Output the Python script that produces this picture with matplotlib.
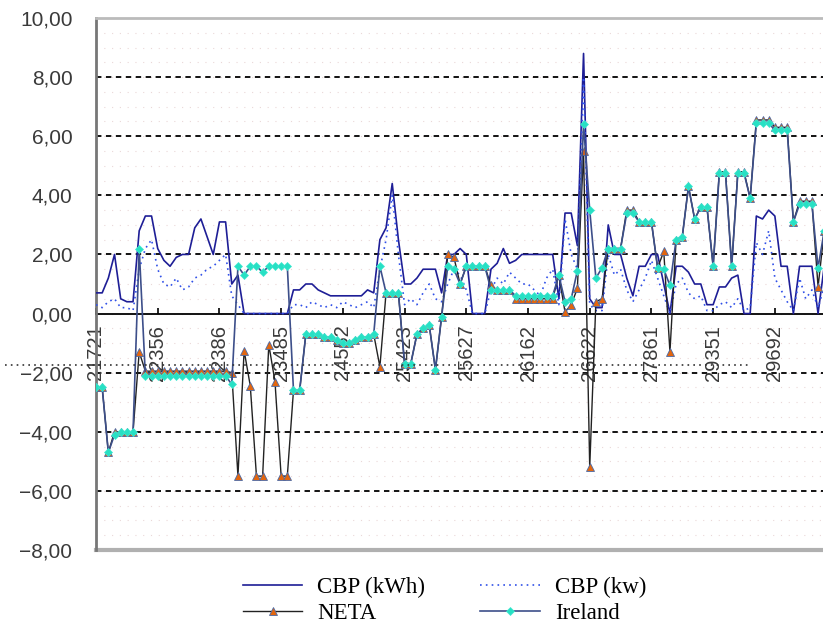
import numpy as np
import matplotlib
matplotlib.use("Agg")
import matplotlib.pyplot as plt
from matplotlib.lines import Line2D
from matplotlib.ticker import FuncFormatter

# category labels shown on the x axis (every 10th point)
tick_labels = ["21721", "22356", "22386", "23485", "24552", "25423",
               "25627", "26162", "26622", "27861", "29351", "29692"]

cbp_kwh = [0.7, 0.7, 1.2, 2.0, 0.5, 0.4, 0.4, 2.8, 3.3, 3.3,
           2.2, 1.8, 1.6, 1.9, 2.0, 2.0, 2.9, 3.2, 2.6, 2.0,
           3.1, 3.1, 1.0, 1.3, 0.0, 0.0, 0.0, 0.0, 0.0, 0.0,
           0.0, 0.0, 0.8, 0.8, 1.0, 1.0, 0.8, 0.7, 0.6, 0.6,
           0.6, 0.6, 0.6, 0.6, 0.8, 0.7, 2.5, 2.9, 4.4, 2.5,
           1.0, 1.0, 1.2, 1.5, 1.5, 1.5, 0.7, 2.0, 2.0, 2.2,
           2.0, 0.0, 0.0, 0.0, 1.5, 1.7, 2.2, 1.7, 1.8, 2.0,
           2.0, 2.0, 2.0, 2.0, 2.0, 0.5, 3.4, 3.4, 2.3, 8.8,
           0.5, 0.2, 0.2, 3.0, 2.0, 2.0, 1.2, 0.6, 1.6, 1.6,
           2.0, 2.0, 1.0, 0.0, 1.6, 1.6, 1.4, 1.0, 1.0, 0.3,
           0.3, 0.9, 0.9, 1.2, 1.3, 0.0, 0.0, 3.3, 3.2, 3.5,
           3.3, 1.6, 1.6, 0.0, 1.6, 1.6, 1.6, 0.0, 1.6]

cbp_kw = [0.3, 0.2, 0.4, 0.5, 0.2, 0.2, 0.1, 1.5, 2.2, 2.5,
          1.5, 1.0, 0.9, 1.2, 0.8, 0.9, 1.2, 1.3, 1.5, 1.6,
          1.8, 2.0, 0.6, 0.3, 0.0, 0.0, 0.0, 0.0, 0.0, 0.0,
          0.0, 0.0, 0.3, 0.3, 0.2, 0.4, 0.3, 0.2, 0.3, 0.2,
          0.4, 0.3, 0.2, 0.3, 0.4, 0.2, 1.5, 2.5, 4.0, 2.0,
          0.3, 0.5, 0.3, 0.7, 1.0, 0.5, 0.4, 1.0, 1.5, 1.3,
          0.8, 0.0, 0.0, 0.0, 0.8, 1.2, 1.0, 1.4, 1.2, 1.0,
          1.0, 0.8, 0.6, 1.2, 1.5, 0.3, 3.2, 2.0, 1.5, 8.0,
          0.3, 0.1, 0.1, 2.0, 1.3, 1.5, 0.8, 0.4, 0.8, 1.2,
          1.8, 1.2, 0.6, 0.0, 1.0, 1.2, 0.7, 0.5, 0.6, 0.1,
          0.1, 0.3, 0.4, 0.2, 0.5, 0.1, 0.2, 2.4, 2.0, 2.8,
          1.2, 0.8, 0.4, 0.1, 1.2, 0.5, 0.8, 0.2, 0.9]

neta = [-2.5, -2.5, -4.7, -4.0, -4.0, -4.0, -4.0, -1.3, -1.95, -1.95,
        -1.95, -1.95, -1.95, -1.95, -1.95, -1.95, -1.95, -1.95, -1.95, -1.95,
        -1.95, -1.95, -2.0, -5.5, -1.25, -2.45, -5.5, -5.5, -1.05, -2.3,
        -5.5, -5.5, -2.6, -2.6, -0.7, -0.7, -0.7, -0.8, -0.8, -0.9,
        -1.0, -1.0, -0.9, -0.8, -0.8, -0.7, -1.8, 0.7, 0.7, 0.7,
        -1.7, -1.7, -0.7, -0.5, -0.4, -1.9, -0.1, 2.0, 1.9, 1.0,
        1.6, 1.6, 1.6, 1.6, 0.95, 0.8, 0.8, 0.8, 0.5, 0.5,
        0.5, 0.5, 0.5, 0.5, 0.5, 1.3, 0.05, 0.3, 0.85, 5.5,
        -5.2, 0.4, 0.5, 2.2, 2.2, 2.2, 3.5, 3.5, 3.1, 3.1,
        3.1, 1.55, 2.1, -1.3, 2.5, 2.6, 4.3, 3.2, 3.6, 3.6,
        1.6, 4.8, 4.8, 1.6, 4.8, 4.8, 3.9, 6.55, 6.55, 6.55,
        6.3, 6.3, 6.3, 3.1, 3.8, 3.8, 3.8, 0.9, 2.8]

ireland = [-2.5, -2.5, -4.7, -4.1, -4.0, -4.0, -4.0, 2.2, -2.1, -2.1,
           -2.1, -2.1, -2.1, -2.1, -2.1, -2.1, -2.1, -2.1, -2.1, -2.1,
           -2.1, -2.1, -2.4, 1.6, 1.3, 1.6, 1.6, 1.4, 1.6, 1.6,
           1.6, 1.6, -2.6, -2.6, -0.7, -0.7, -0.7, -0.8, -0.8, -0.9,
           -1.0, -1.0, -0.9, -0.8, -0.8, -0.7, 1.6, 0.7, 0.7, 0.7,
           -1.7, -1.7, -0.7, -0.5, -0.4, -1.9, -0.1, 1.6, 1.5, 1.0,
           1.6, 1.6, 1.6, 1.6, 0.8, 0.8, 0.8, 0.8, 0.6, 0.6,
           0.6, 0.6, 0.6, 0.6, 0.6, 1.3, 0.4, 0.5, 1.45, 6.4,
           3.5, 1.2, 1.55, 2.2, 2.2, 2.2, 3.4, 3.4, 3.1, 3.1,
           3.1, 1.55, 1.5, 0.95, 2.5, 2.6, 4.3, 3.2, 3.6, 3.6,
           1.6, 4.75, 4.75, 1.6, 4.75, 4.75, 3.9, 6.45, 6.45, 6.45,
           6.2, 6.2, 6.2, 3.1, 3.7, 3.7, 3.7, 1.55, 2.8]

x = np.arange(len(cbp_kwh))

fig = plt.figure(figsize=(8.23, 6.28), dpi=100)
ax = fig.add_axes([96 / 823, 1 - 550 / 628, 727 / 823, 532 / 628])

# faint dotted background rows
for yy in np.arange(-7.5, 10, 0.5):
    ax.axhline(yy, color="#ead8d8", lw=0.8, ls=(0, (1, 6)), zorder=0)
for yy in [-6, -4, -2, 2, 4, 6, 8]:
    ax.axhline(yy, color="black", lw=1.3, ls=(0, (3, 2.5)), zorder=1)

ax.plot(x, cbp_kwh, color="#1e1e96", lw=1.2, label="CBP (kWh)", zorder=3)
ax.plot(x, cbp_kw, color="#3050e8", lw=1.2, ls=(0, (1, 2.5)), label="CBP (kw)", zorder=3)
ax.plot(x, neta, color="#222222", lw=1.0, marker="^", ms=5.5,
        mfc="#e2660f", mec="#4a6aa8", mew=0.6, label="NETA", zorder=4)
ax.plot(x, ireland, color="#3d4f8a", lw=1.2, marker="D", ms=4,
        mfc="#27e0c4", mec="#40e8d0", mew=0.5, label="Ireland", zorder=5)

ax.spines["bottom"].set_position(("data", 0))
ax.spines["bottom"].set_color("black")
ax.spines["bottom"].set_linewidth(1.3)
ax.spines["bottom"].set_zorder(2)
ax.spines["left"].set_color("#777777")
ax.spines["left"].set_linewidth(2)
ax.spines["top"].set_color("#bbbbbb")
ax.spines["top"].set_linewidth(2)
ax.spines["right"].set_visible(False)
ax.axhline(-8, color="#b0b0b0", lw=3, clip_on=False, zorder=2)

ax.set_xlim(0, 117.8)
ax.set_ylim(-8, 10)
ax.set_yticks(np.arange(-8, 11, 2))
ax.yaxis.set_major_formatter(FuncFormatter(lambda v, p: f"{v:.2f}".replace(".", ",").replace("-", "\u2212")))
ax.set_xticks(np.arange(0, 120, 10))
ax.set_xticklabels(tick_labels)

ax.tick_params(axis="x", direction="in", length=4, width=1.2, pad=8,
               labelsize=14.5, labelcolor="#3a3a3a", labelrotation=90)
ax.tick_params(axis="y", length=0, pad=17, labelsize=15, labelcolor="#3a3a3a")
for lab in ax.get_xticklabels() + ax.get_yticklabels():
    lab.set_family("Liberation Sans")
for lab in ax.get_xticklabels():
    lab.set_va("top")
    lab.set_ha("center")

h, l = ax.get_legend_handles_labels()
order = [0, 2, 1, 3]
fig.legend([h[i] for i in order], [l[i] for i in order], ncol=2, frameon=False,
           loc="center", bbox_to_anchor=(0.54, 0.044),
           prop={"family": "Liberation Serif", "size": 16.5},
           handlelength=2.6, columnspacing=2.4, labelspacing=0.25, handletextpad=0.65)

# stray dotted line crossing the chart
fig.add_artist(Line2D([5 / 823, 750 / 823], [1 - 365 / 628, 1 - 365 / 628],
                      color="#333333", lw=1.2, ls=(0, (1, 2.5)), zorder=10))

fig.savefig("out.png", dpi=100)
